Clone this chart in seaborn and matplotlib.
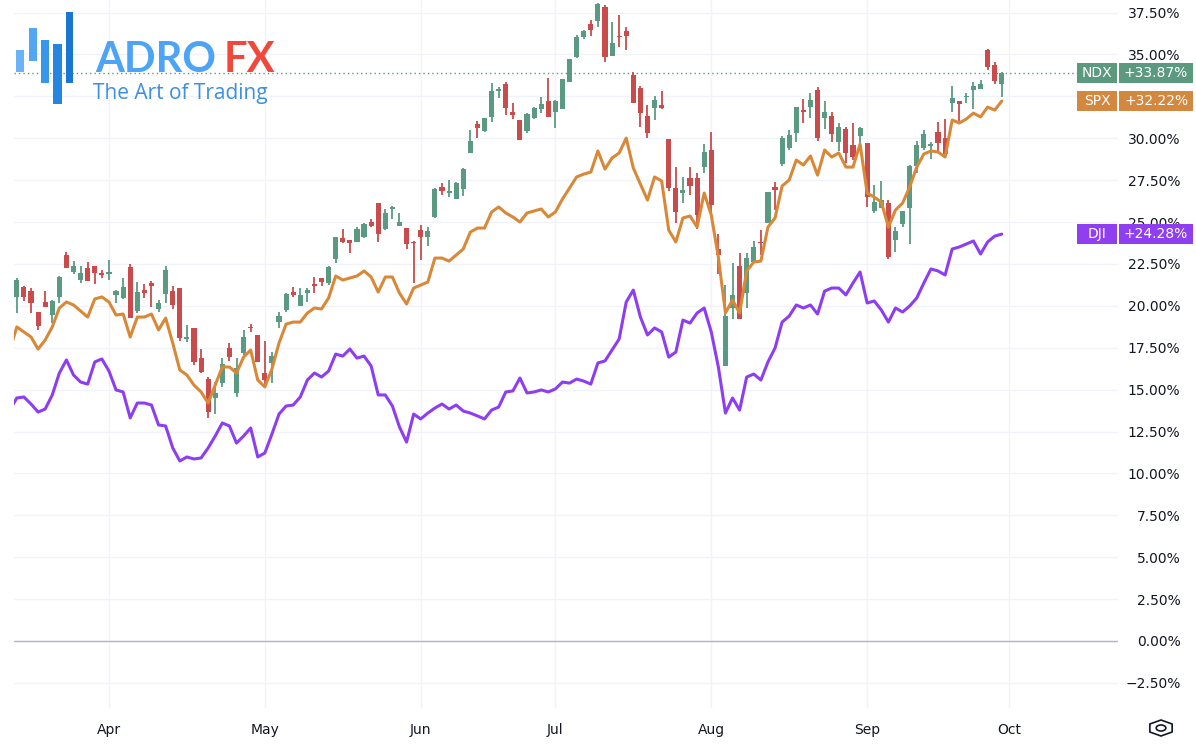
import numpy as np
import matplotlib
matplotlib.use("Agg")
import matplotlib.pyplot as plt
import seaborn as sns
from matplotlib.patches import Rectangle, RegularPolygon, Circle

# ---------------- data (percent change) ----------------
# candle bars start at trading-day -13 relative to Apr 1; lines start at -14
ndx_open = [20.53, 21.12, 20.88, 19.63, 20.23, 19.45, 20.53, 23.03, 22.02, 21.54, 22.26, 22.38, 21.96,
            21.90, 20.65, 20.47, 22.32, 19.69, 20.94, 21.36, 19.81, 20.70, 20.88, 21.06, 18.02, 18.68, 16.88,
            15.63, 14.50, 15.39, 17.48, 14.80, 17.18, 18.74, 18.26, 15.99, 16.59, 19.03, 19.75, 20.82, 19.99,
            20.76, 21.30, 21.66, 21.36, 22.79, 24.05, 23.93, 23.81, 24.11, 25.00, 26.13, 24.58, 25.78, 24.76,
            24.64, 23.81, 24.52, 24.11, 25.30, 27.09, 26.73, 26.37, 26.97, 29.12, 30.85, 30.43, 31.27, 32.82,
            33.23, 31.56, 31.09, 30.43, 31.21, 31.74, 32.22, 31.56, 31.74, 33.35, 34.85, 36.04, 36.81, 36.99,
            37.83, 34.90, 36.10, 36.40, 33.77, 33.00, 31.32, 31.80, 31.98, 29.95, 27.03, 26.73, 27.62, 27.62,
            28.28, 29.30, 23.39, 16.41, 19.87, 22.38, 20.76, 22.61, 23.81, 24.94, 27.09, 28.46, 29.42, 30.31,
            31.68, 31.86, 32.88, 31.21, 31.32, 29.77, 30.55, 29.59, 30.13, 29.71, 25.66, 25.84, 26.13, 23.93,
            24.88, 25.84, 28.34, 29.42, 29.53, 30.37, 30.01, 32.10, 32.22, 32.46, 32.88, 32.94, 35.26, 34.37,
            33.23]
ndx_high = [21.66, 21.18, 21.06, 19.63, 20.88, 20.35, 21.78, 23.21, 22.67, 22.38, 22.61, 22.38, 22.14,
            22.73, 20.94, 21.66, 22.50, 21.42, 21.30, 21.48, 20.35, 22.38, 21.18, 21.06, 18.85, 18.68, 17.42,
            15.75, 15.45, 16.88, 17.78, 16.88, 18.56, 18.91, 18.26, 17.90, 17.24, 19.63, 20.76, 21.12, 21.06,
            21.06, 21.72, 21.66, 22.38, 24.11, 24.58, 23.93, 24.70, 24.94, 25.18, 26.13, 25.78, 25.95, 25.54,
            24.64, 23.87, 24.82, 24.70, 27.03, 27.33, 27.51, 27.39, 28.22, 30.49, 31.03, 31.21, 33.29, 33.06,
            33.35, 32.10, 31.09, 31.50, 31.86, 32.46, 33.59, 32.28, 33.53, 34.73, 36.16, 36.46, 37.05, 38.07,
            37.95, 36.93, 37.35, 36.64, 33.95, 33.11, 31.98, 32.52, 32.82, 29.95, 28.28, 27.69, 28.28, 27.92,
            29.65, 30.37, 24.28, 21.24, 22.55, 23.15, 23.15, 23.87, 24.52, 26.79, 27.39, 30.13, 30.49, 31.86,
            32.34, 32.70, 33.06, 32.22, 31.56, 30.91, 30.67, 30.91, 30.67, 29.71, 27.21, 27.45, 26.31, 24.70,
            25.66, 28.40, 29.83, 30.49, 29.77, 30.97, 31.15, 33.11, 32.22, 32.70, 33.35, 33.47, 35.32, 34.55,
            33.95]
ndx_low = [19.57, 20.29, 19.57, 18.56, 19.93, 18.97, 20.17, 22.26, 21.90, 21.36, 21.48, 21.30, 21.66,
           21.54, 20.17, 20.41, 19.27, 19.57, 20.47, 19.93, 19.63, 20.17, 19.81, 17.90, 17.84, 16.47, 15.99,
           13.31, 13.54, 15.16, 16.71, 14.56, 17.06, 18.44, 16.65, 15.10, 15.39, 18.68, 19.63, 20.53, 19.99,
           20.23, 20.76, 21.18, 21.24, 22.55, 23.75, 23.15, 23.81, 24.05, 24.70, 23.81, 24.52, 25.18, 24.76,
           23.39, 21.36, 22.73, 23.57, 25.24, 26.61, 26.49, 26.37, 26.55, 29.12, 30.01, 30.37, 30.97, 32.40,
           31.38, 31.15, 29.89, 30.31, 31.15, 31.50, 31.27, 30.61, 31.74, 33.35, 34.79, 35.92, 36.10, 36.64,
           34.55, 34.90, 35.44, 35.26, 32.10, 30.67, 30.01, 31.09, 31.74, 26.85, 24.94, 26.13, 26.61, 24.58,
           27.92, 25.30, 21.90, 16.41, 19.21, 19.21, 19.87, 22.55, 23.03, 24.94, 25.72, 28.34, 29.30, 29.77,
           30.91, 31.21, 29.83, 30.55, 29.77, 29.24, 28.52, 28.70, 29.59, 25.90, 25.54, 25.84, 22.79, 23.21,
           24.70, 23.69, 27.92, 29.30, 28.76, 29.12, 28.88, 31.56, 31.03, 32.10, 31.74, 32.94, 34.07, 33.23,
           32.46]
ndx_close = [21.54, 20.53, 20.17, 18.79, 19.93, 20.29, 21.72, 22.26, 22.38, 21.96, 21.48, 21.96, 21.84,
             22.02, 20.88, 21.12, 19.27, 20.82, 20.76, 21.18, 20.17, 22.14, 20.05, 18.08, 18.14, 16.65, 16.05,
             13.66, 14.80, 16.53, 16.94, 16.29, 18.14, 18.68, 16.65, 15.57, 17.00, 19.39, 20.70, 20.65, 20.65,
             20.94, 21.18, 21.42, 22.32, 24.11, 23.81, 23.75, 24.58, 24.88, 24.76, 24.28, 25.54, 25.90, 25.00,
             23.69, 23.75, 24.11, 24.46, 26.97, 26.85, 26.85, 27.33, 28.16, 29.83, 30.61, 31.21, 32.82, 32.94,
             31.80, 31.38, 29.89, 31.44, 31.80, 32.04, 31.27, 32.22, 33.53, 34.73, 36.04, 36.40, 36.46, 38.01,
             34.85, 35.68, 36.04, 36.10, 32.10, 31.50, 30.31, 32.28, 31.80, 27.03, 25.60, 26.91, 27.15, 25.42,
             29.18, 26.01, 23.03, 19.39, 20.65, 19.21, 22.85, 23.51, 23.75, 26.79, 26.91, 30.01, 30.19, 31.86,
             31.56, 32.28, 30.01, 31.56, 30.25, 30.67, 29.12, 28.88, 30.61, 26.49, 26.19, 26.31, 22.91, 24.46,
             25.66, 28.34, 29.59, 30.25, 29.65, 29.71, 29.06, 32.40, 32.04, 32.52, 33.11, 33.23, 34.25, 33.41,
             33.87]
spx = [17.36, 18.74, 18.44, 18.14, 17.42, 17.96, 18.74, 19.87, 20.23, 20.05, 19.69, 19.33, 20.41, 20.53,
       20.23, 19.45, 19.51, 18.14, 19.33, 19.33, 19.51, 18.56, 19.27, 17.78, 16.17, 15.87, 15.27, 14.86,
       14.20, 15.27, 16.35, 16.35, 15.99, 16.94, 17.36, 15.57, 15.16, 16.23, 17.78, 18.91, 19.03, 19.03,
       19.57, 19.87, 19.81, 20.47, 21.78, 21.54, 21.66, 21.78, 22.08, 21.72, 20.82, 21.72, 21.72, 20.76,
       20.11, 21.06, 21.24, 21.42, 22.85, 22.85, 22.67, 23.03, 23.39, 24.40, 24.64, 24.64, 25.60, 25.90,
       25.54, 25.30, 25.00, 25.54, 25.66, 25.78, 25.30, 25.60, 26.37, 27.03, 27.69, 27.86, 27.98, 29.24,
       28.16, 28.82, 29.12, 30.01, 28.22, 27.27, 26.31, 27.69, 27.45, 24.52, 23.81, 25.24, 25.36, 24.70,
       26.73, 25.42, 22.91, 19.57, 20.35, 19.57, 22.08, 22.61, 22.67, 24.70, 25.24, 27.15, 27.51, 28.70,
       28.40, 28.94, 27.80, 29.30, 28.88, 29.12, 28.28, 28.28, 29.65, 26.73, 26.49, 26.19, 24.70, 25.72,
       26.13, 27.09, 28.28, 29.06, 29.24, 29.18, 28.88, 31.09, 30.91, 31.15, 31.50, 31.27, 31.86, 31.68,
       32.22]
dji = [13.78, 14.50, 14.56, 14.14, 13.66, 13.84, 14.68, 15.99, 16.77, 15.87, 15.45, 15.33, 16.65, 16.83,
       16.11, 14.98, 14.86, 13.31, 14.20, 14.20, 14.08, 12.89, 12.83, 11.52, 10.74, 10.98, 10.86, 10.92,
       11.52, 12.23, 13.01, 12.83, 11.81, 12.23, 12.71, 10.98, 11.22, 12.35, 13.54, 14.02, 14.08, 14.56,
       15.57, 15.99, 15.75, 16.11, 17.12, 17.00, 17.42, 16.88, 17.00, 16.41, 14.68, 14.68, 14.02, 12.77,
       11.87, 13.54, 13.25, 13.60, 13.90, 14.14, 13.84, 14.08, 13.72, 13.60, 13.43, 13.25, 13.78, 13.96,
       14.86, 14.92, 15.69, 14.80, 14.86, 14.98, 14.86, 15.04, 15.45, 15.39, 15.63, 15.51, 15.33, 16.59,
       16.71, 17.36, 18.02, 20.23, 20.94, 19.33, 18.26, 18.68, 18.44, 16.94, 17.24, 19.15, 18.97, 19.57,
       19.87, 18.44, 16.35, 13.60, 14.50, 13.78, 15.75, 15.93, 15.57, 16.65, 17.48, 19.03, 19.39, 20.05,
       19.87, 20.05, 19.51, 20.88, 21.06, 21.06, 20.65, 21.36, 22.02, 20.17, 20.29, 19.75, 19.03, 19.87,
       19.63, 19.99, 20.47, 21.36, 22.20, 22.08, 21.84, 23.39, 23.51, 23.69, 23.87, 23.09, 23.81, 24.16,
       24.28]
candle_bars = list(range(-13, 127))
line_bars = list(range(-14, 127))
month_labels = ["Apr", "May", "Jun", "Jul", "Aug", "Sep", "Oct"]
month_bars = [0, 22, 44, 63, 85, 107, 127]
tags = [("NDX", ndx_close[-1]), ("SPX", spx[-1]), ("DJI", dji[-1])]

# ---------------- style ----------------
GREEN = "#5b9a82"
RED = "#c94b4b"
ORANGE = "#d98838"
PURPLE = "#8d3df2"
TXT = "#131722"
GRID = "#f0f3fa"

sns.set_theme(style="white")
plt.rcParams["font.family"] = ["DejaVu Sans"]

W, H = 1196, 744
fig = plt.figure(figsize=(W / 100, H / 100), dpi=100)
fig.patch.set_facecolor("white")
ax = fig.add_axes([14 / W, (H - 708) / H, (1118 - 14) / W, 708 / H])
ax.set_facecolor("white")
for s in ax.spines.values():
    s.set_visible(False)

ax.set_xlim(-13.4, 142.4)
ax.set_ylim(-4.0, 38.25)

yt = np.arange(-2.5, 37.6, 2.5)
ax.set_yticks(yt)
# the 32.50% label sits fully behind the SPX price tag in the reference
ax.set_yticklabels(["" if abs(v - 32.5) < 1e-6 else f"{v:.2f}%".replace("-", "\u2212") for v in yt])
ax.yaxis.tick_right()
ax.tick_params(axis="y", length=0, pad=45, labelsize=10, labelcolor=TXT)
for lab in ax.get_yticklabels():
    lab.set_horizontalalignment("right")
ax.set_xticks(month_bars)
ax.set_xticklabels(month_labels)
ax.tick_params(axis="x", length=0, pad=11, labelsize=10, labelcolor=TXT)
ax.grid(True, color=GRID, lw=1)
ax.set_axisbelow(True)
ax.axhline(0, color="#b2b5be", lw=1, zorder=1)

# candles
o = np.array(ndx_open); c = np.array(ndx_close)
hi = np.array(ndx_high); lo = np.array(ndx_low)
cols = np.where(c >= o, GREEN, RED)
ax.vlines(candle_bars, lo, hi, colors=cols, lw=1.3, zorder=3)
ax.bar(candle_bars, np.maximum(np.abs(c - o), 0.08), bottom=np.minimum(o, c),
       width=0.72, color=cols, linewidth=0, zorder=4)

# comparison lines
sns.lineplot(x=line_bars, y=spx, color=ORANGE, lw=2.2, ax=ax, zorder=5)
sns.lineplot(x=line_bars, y=dji, color=PURPLE, lw=2.2, ax=ax, zorder=6)
ax.set_xlabel(""); ax.set_ylabel("")

# last price dotted line
ax.axhline(ndx_close[-1], xmax=(1077 - 14) / 1104, color=GREEN, ls=(0, (1, 2.2)), lw=1, zorder=2)

# price tags
tr = ax.get_yaxis_transform()
hbox = 20 / 16.76
tag_cols = {"NDX": "#5c9a80", "SPX": "#d4873e", "DJI": "#8f3ff0"}
for name, val in tags:
    col = tag_cols[name]
    ax.add_patch(Rectangle((0.9629, val - hbox / 2), 0.0362, hbox, transform=tr, color=col,
                           clip_on=False, zorder=10, linewidth=0))
    ax.add_patch(Rectangle((1.0009, val - hbox / 2), 0.0671, hbox, transform=tr, color=col,
                           clip_on=False, zorder=10, linewidth=0))
    ax.text(0.981, val, name, transform=tr, color="white", fontsize=10, ha="center", va="center",
            zorder=11, clip_on=False)
    ax.text(1.0345, val, f"{val:+.2f}%", transform=tr, color="white", fontsize=10, ha="center",
            va="center", zorder=11, clip_on=False)

# logo
bars = [(16, 50, 8, 22, "#6ab4f5"), (29, 28, 8, 33, "#52a6f2"), (41, 40, 8, 43, "#3796ea"),
        (53, 44, 9, 60, "#2486de"), (66, 12, 7, 71, "#1b75d2")]
for x, y, w, h, col in bars:
    fig.add_artist(Rectangle((x / W, (H - y - h) / H), w / W, h / H, transform=fig.transFigure,
                             color=col, linewidth=0, zorder=20))
fig.text(95 / W, (H - 72) / H, "ADRO", fontsize=30, fontweight="bold", color="#4da3f5",
         family="Lato", va="baseline", ha="left", zorder=20)
fig.text(224 / W, (H - 72) / H, "FX", fontsize=30, fontweight="bold", color="#f0483a",
         family="Lato", va="baseline", ha="left", zorder=20)
fig.text(93 / W, (H - 99) / H, "The Art of Trading", fontsize=15, color="#3d8fe0",
         family="Open Sans", va="baseline", ha="left", zorder=20)

# settings icon
fig.add_artist(RegularPolygon((1161 / W, (H - 728) / H), 6, radius=8 / H, orientation=0,
                              transform=fig.transFigure, fill=False, ec=TXT, lw=1.2))
fig.add_artist(Circle((1161 / W, (H - 728) / H), 3 / H, transform=fig.transFigure,
                      fill=False, ec=TXT, lw=1.2))

fig.savefig("out.png", dpi=100, facecolor="white")
